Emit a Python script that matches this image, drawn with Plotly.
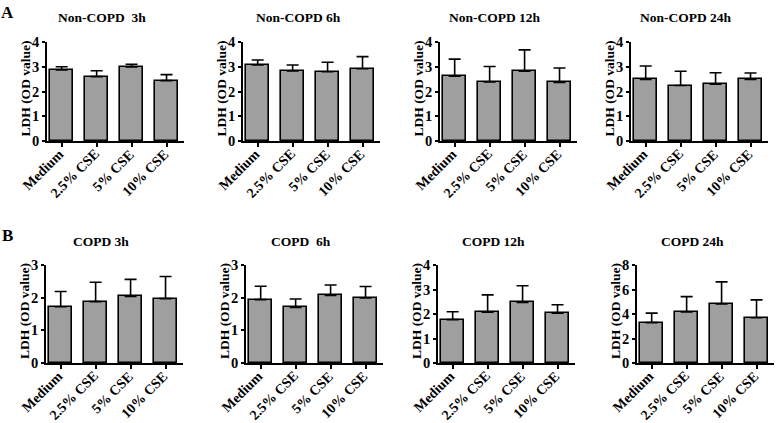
import plotly.graph_objects as go

W, H = 778, 423

categories = ["Medium", "2.5% CSE", "5% CSE", "10% CSE"]

titles = ["Non-COPD  3h", "Non-COPD 6h", "Non-COPD 12h", "Non-COPD 24h",
          "COPD 3h", "COPD  6h", "COPD 12h", "COPD 24h"]

# mean LDH (OD value) per panel
mean_nc_3h = [2.87, 2.60, 2.99, 2.44]
mean_nc_6h = [3.07, 2.83, 2.80, 2.92]
mean_nc_12h = [2.62, 2.39, 2.82, 2.37]
mean_nc_24h = [2.49, 2.24, 2.29, 2.49]
mean_c_3h = [1.72, 1.88, 2.04, 1.97]
mean_c_6h = [1.94, 1.70, 2.07, 1.99]
mean_c_12h = [1.77, 2.07, 2.47, 2.03]
mean_c_24h = [3.30, 4.17, 4.83, 3.69]

# upper error (SD)
err_nc_3h = [0.13, 0.24, 0.11, 0.24]
err_nc_6h = [0.20, 0.24, 0.38, 0.49]
err_nc_12h = [0.69, 0.62, 0.86, 0.58]
err_nc_24h = [0.54, 0.58, 0.47, 0.26]
err_c_3h = [0.47, 0.59, 0.52, 0.68]
err_c_6h = [0.41, 0.26, 0.32, 0.35]
err_c_12h = [0.32, 0.71, 0.68, 0.35]
err_c_24h = [0.77, 1.25, 1.79, 1.46]

y_max = [4, 4, 4, 4, 3, 3, 4, 8]
y_dtick = [1, 1, 1, 1, 1, 1, 1, 2]

means = [mean_nc_3h, mean_nc_6h, mean_nc_12h, mean_nc_24h,
         mean_c_3h, mean_c_6h, mean_c_12h, mean_c_24h]
errs = [err_nc_3h, err_nc_6h, err_nc_12h, err_nc_24h,
        err_c_3h, err_c_6h, err_c_12h, err_c_24h]

# layout in pixels
x_starts = [47, 243, 440, 631, 46, 246, 438, 637]
ax_w = 137
row_top = [42, 265]
row_bot = [141, 363]

FONT = "Liberation Serif"
fig = go.Figure()
annotations = []

for i in range(8):
    r = i // 4
    n = i + 1
    xa = "x" if n == 1 else f"x{n}"
    ya = "y" if n == 1 else f"y{n}"
    fig.add_trace(go.Bar(
        x=list(range(4)), y=means[i], xaxis=xa, yaxis=ya,
        width=0.66,
        marker=dict(color="#9f9f9f", line=dict(color="black", width=1.6)),
        error_y=dict(type="data", symmetric=False, array=errs[i],
                     arrayminus=[0, 0, 0, 0], color="black",
                     thickness=1.6, width=6),
        showlegend=False, hoverinfo="skip",
    ))
    x0 = x_starts[i] / W
    x1 = (x_starts[i] + ax_w) / W
    y0 = 1 - row_bot[r] / H
    y1 = 1 - row_top[r] / H
    yfont = dict(family=FONT, size=14.5, color="black", weight="bold")
    fig.layout[f"xaxis{'' if n == 1 else n}"] = dict(
        domain=[x0, x1], anchor=ya, range=[-0.42, 3.5], automargin=False,
        tickmode="array", tickvals=list(range(4)), showticklabels=False,
        ticks="outside", ticklen=4, tickwidth=1.5, tickcolor="black",
        showline=True, linecolor="black", linewidth=1.8,
        showgrid=False, zeroline=False, fixedrange=True,
    )
    fig.layout[f"yaxis{'' if n == 1 else n}"] = dict(
        domain=[y0, y1], anchor=xa, range=[0, y_max[i]], automargin=False,
        dtick=y_dtick[i], tick0=0, tickfont=yfont, ticks="outside",
        ticklen=3, tickwidth=1.5, tickcolor="black",
        showline=True, linecolor="black", linewidth=1.8,
        showgrid=False, zeroline=False, fixedrange=True,
    )
    # rotated category labels
    for j, cat in enumerate(categories):
        annotations.append(dict(
            text=cat, xref=xa, yref="paper", x=j, y=1 - (row_bot[r] + 4) / H,
            xanchor="right", yanchor="top", xshift=7, showarrow=False,
            textangle=-45, borderpad=0,
            font=dict(family=FONT, size=14, color="black", weight="bold"),
        ))
    # panel title
    ty = 18 if r == 0 else 241
    annotations.append(dict(
        text=titles[i], xref="paper", yref="paper",
        x=(x_starts[i] + 55) / W, y=1 - ty / H,
        xanchor="center", yanchor="middle", showarrow=False,
        font=dict(family=FONT, size=13.5, color="black", weight="bold"),
    ))
    # y axis title
    annotations.append(dict(
        text="LDH (OD value)", xref="paper", yref="paper",
        x=(x_starts[i] - 22) / W, y=1 - ((row_top[r] + row_bot[r]) / 2 - 3) / H,
        xanchor="center", yanchor="middle", showarrow=False, textangle=-90,
        font=dict(family=FONT, size=13.5, color="black", weight="bold"),
    ))

for letter, ly in (("A", 12.5), ("B", 235)):
    annotations.append(dict(
        text=letter, xref="paper", yref="paper", x=8 / W, y=1 - ly / H,
        xanchor="center", yanchor="middle", showarrow=False,
        font=dict(family=FONT, size=17, color="black", weight="bold"),
    ))

fig.update_layout(
    width=W, height=H, margin=dict(l=0, r=0, t=0, b=0, autoexpand=False),
    paper_bgcolor="white", plot_bgcolor="white",
    annotations=annotations, bargap=0,
)

fig.write_html(
    "out.html",
    config={"displayModeBar": False},
    post_script="document.body.style.margin='0';document.body.style.padding='0';"
                "document.body.style.overflow='hidden';",
)
